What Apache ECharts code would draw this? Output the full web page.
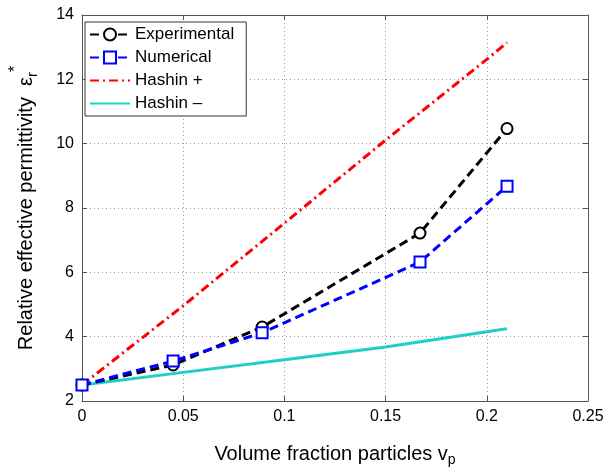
<!DOCTYPE html>
<html>
<head>
<meta charset="utf-8">
<script src="https://cdn.jsdelivr.net/npm/echarts@6/dist/echarts.min.js"></script>
<style>
  html, body { margin: 0; padding: 0; background: #fff; }
  #chart { width: 608px; height: 472px; }
</style>
</head>
<body>
<div id="chart"></div>
<script>
// volume fractions of the measured samples
var fractions = [0, 0.045, 0.089, 0.167, 0.21]
var experimental = [2.5, 3.12, 4.3, 7.22, 10.47]
var numerical = [2.5, 3.24, 4.12, 6.32, 8.68]

// Hashin bounds
var boundFractions = [0, 0.05, 0.1, 0.15, 0.2, 0.21]
var hashinUpper = [2.5, 4.96, 7.53, 10.11, 12.62, 13.14]
var hashinLower = [2.5, 2.89, 3.28, 3.68, 4.15, 4.25]

var xTicks = [0, 0.05, 0.1, 0.15, 0.2, 0.25]
var yTicks = [2, 4, 6, 8, 10, 12, 14]

function pairs(xs, ys) {
  return xs.map(function (x, i) { return [x, ys[i]] })
}

var font = 'Liberation Sans, Arial, Helvetica, sans-serif'
// hide the marker in the legend for the bounds, keep the line
var noMarker = { color: 'rgba(0,0,0,0)', borderWidth: 0, opacity: 0 }
var chart = echarts.init(document.getElementById('chart'))

var axisCommon = {
  axisLine: { show: true, onZero: false, lineStyle: { color: '#555', width: 1 } },
  axisTick: { show: true, inside: true, length: 5, lineStyle: { color: '#555' } }
}

chart.setOption({
  animation: false,
  backgroundColor: '#fff',
  textStyle: { fontFamily: font },
  grid: { left: 78, right: 20, top: 15, bottom: 65, containLabel: false },
  legend: {
    orient: 'vertical',
    left: 85,
    top: 22,
    backgroundColor: '#fff',
    borderColor: '#333',
    borderWidth: 1,
    padding: [4, 12, 4, 4],
    itemGap: 6,
    itemWidth: 40,
    itemHeight: 15,
    textStyle: { fontSize: 17, color: '#000', fontFamily: font },
    data: [
      'Experimental',
      'Numerical',
      { name: 'Hashin +', itemStyle: noMarker },
      { name: 'Hashin \u2013', itemStyle: noMarker }
    ]
  },
  xAxis: [
    Object.assign({
      type: 'value',
      min: xTicks[0],
      max: xTicks[xTicks.length - 1],
      interval: 0.05,
      name: '{a|Volume fraction particles v}{sub|p}',
      nameLocation: 'middle',
      nameGap: 40,
      nameTextStyle: {
        rich: {
          a: { fontSize: 20, color: '#000', fontFamily: font },
          sub: { fontSize: 14, color: '#000', fontFamily: font, padding: [12, 0, 0, 0] }
        }
      },
      axisLabel: {
        fontSize: 16,
        color: '#000',
        margin: 8,
        formatter: function (v) { return String(+v.toFixed(2)) }
      },
      splitLine: { show: true, lineStyle: { color: '#999', type: [1, 3], width: 1 } }
    }, axisCommon),
    Object.assign({
      type: 'value',
      position: 'top',
      min: xTicks[0],
      max: xTicks[xTicks.length - 1],
      interval: 0.05,
      axisLabel: { show: false },
      splitLine: { show: false }
    }, axisCommon)
  ],
  yAxis: [
    Object.assign({
      type: 'value',
      min: yTicks[0],
      max: yTicks[yTicks.length - 1],
      interval: 2,
      name: '{a|Relative effective permittivity  \u03b5}{sub|r}{sup|*}',
      nameLocation: 'middle',
      nameGap: 38,
      nameTextStyle: {
        rich: {
          a: { fontSize: 20, color: '#000', fontFamily: font },
          sub: { fontSize: 15, color: '#000', fontFamily: font, padding: [14, 0, 0, 0] },
          sup: { fontSize: 16, color: '#000', fontFamily: font, padding: [0, 0, 20, 0] }
        }
      },
      axisLabel: { fontSize: 16, color: '#000', margin: 8 },
      splitLine: { show: true, lineStyle: { color: '#999', type: [1, 3], width: 1 } }
    }, axisCommon),
    Object.assign({
      type: 'value',
      position: 'right',
      min: yTicks[0],
      max: yTicks[yTicks.length - 1],
      interval: 2,
      axisLabel: { show: false },
      splitLine: { show: false }
    }, axisCommon)
  ],
  series: [
    {
      name: 'Experimental',
      type: 'line',
      data: pairs(fractions, experimental),
      symbol: 'emptyCircle',
      symbolSize: 11,
      lineStyle: { color: '#000', width: 3, type: [9, 5] },
      itemStyle: { color: '#000', borderColor: '#000', borderWidth: 2.5 },
      z: 3
    },
    {
      name: 'Numerical',
      type: 'line',
      data: pairs(fractions, numerical),
      symbol: 'emptyRect',
      symbolSize: 11,
      lineStyle: { color: '#0000ff', width: 3, type: [9, 5] },
      itemStyle: { color: '#0000ff', borderColor: '#0000ff', borderWidth: 2.5 },
      z: 4
    },
    {
      name: 'Hashin +',
      type: 'line',
      data: pairs(boundFractions, hashinUpper),
      symbol: 'none',
      lineStyle: { color: '#ff0000', width: 3, type: [9, 4, 2, 4] },
      itemStyle: { color: '#ff0000' },
      z: 2
    },
    {
      name: 'Hashin \u2013',
      type: 'line',
      data: pairs(boundFractions, hashinLower),
      symbol: 'none',
      lineStyle: { color: '#1ccfc9', width: 3 },
      itemStyle: { color: '#1ccfc9' },
      z: 2
    }
  ]
})
</script>
</body>
</html>
